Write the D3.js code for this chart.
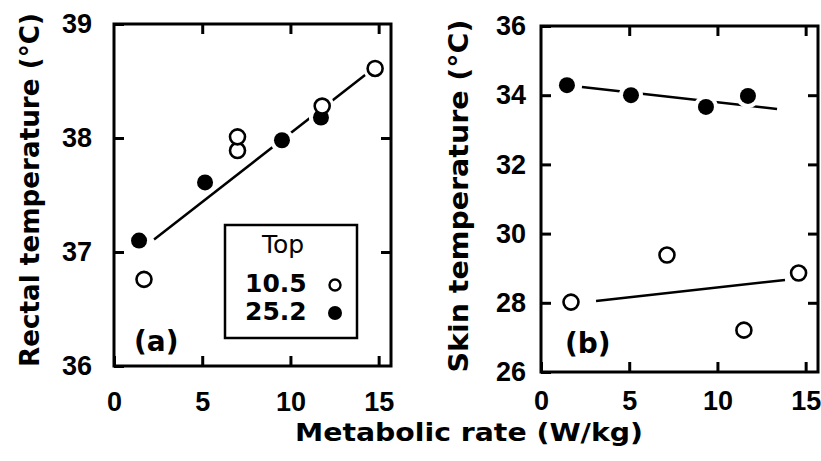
<!DOCTYPE html>
<html>
<head>
<meta charset="utf-8">
<script src="https://cdn.jsdelivr.net/npm/d3@7"></script>
<style>
body { margin: 0; background: #fff; }
</style>
</head>
<body>
<div id="chart"></div>
<script>
// panel (a): rectal temperature vs metabolic rate
var rectalX105 = [1.7, 7.0, 7.0, 11.8, 14.8];
var rectalY105 = [36.76, 37.89, 38.01, 38.28, 38.61];
var rectalX252 = [1.42, 5.16, 9.52, 11.73];
var rectalY252 = [37.1, 37.61, 37.98, 38.18];
var rectalFitX = [2.27, 14.63];
var rectalFitY = [37.11, 38.6];
var rectalTicks = [36, 37, 38, 39];

// panel (b): skin temperature vs metabolic rate
var skinX105 = [1.7, 7.14, 11.5, 14.6];
var skinY105 = [28.02, 29.38, 27.21, 28.86];
var skinX252 = [1.47, 5.1, 9.35, 11.73];
var skinY252 = [34.29, 34.0, 33.66, 33.98];
var skinFitX105 = [3.12, 13.83];
var skinFitY105 = [28.05, 28.66];
var skinFitX252 = [2.32, 13.38];
var skinFitY252 = [34.24, 33.6];
var skinTicks = [26, 28, 30, 32, 34, 36];

var rateTicks = [0, 5, 10, 15];
var legendTitle = "Top";
var legendLabels = ["10.5", "25.2"];

var width = 821;
var height = 461;
var ink = "#000";
var tickFont = "'Liberation Sans', Arial, sans-serif";
var textFont = "'DejaVu Sans', Verdana, sans-serif";

var svg = d3.select("#chart")
    .append("svg")
    .attr("width", width)
    .attr("height", height)
    .style("display", "block");

function styleAxis(g, size) {
    g.select(".domain").remove();
    g.selectAll(".tick line")
        .attr("stroke", ink)
        .attr("stroke-width", 3);
    g.selectAll(".tick text")
        .attr("fill", ink)
        .style("font-family", tickFont)
        .style("font-weight", "bold")
        .style("font-size", size + "px");
}

function drawPanel(o) {
    var x = d3.scaleLinear().domain([0, 15.7]).range([o.left, o.right]);
    var y = d3.scaleLinear().domain([o.yTicks[0], o.yTicks[o.yTicks.length - 1]]).range([o.bottom, o.top]);
    var fmt = d3.format("d");

    // axes, ticks pointing inward on all four sides
    svg.append("g")
        .attr("transform", "translate(0," + o.bottom + ")")
        .call(d3.axisBottom(x).tickValues(rateTicks).tickFormat(fmt).tickSizeInner(-10).tickSizeOuter(0).tickPadding(o.xPad))
        .call(styleAxis, 27);
    svg.append("g")
        .attr("transform", "translate(0," + o.top + ")")
        .call(d3.axisTop(x).tickValues(rateTicks.slice(1)).tickSizeInner(-10).tickSizeOuter(0).tickFormat(""))
        .call(styleAxis, 27);
    svg.append("g")
        .attr("transform", "translate(" + o.left + ",0)")
        .call(d3.axisLeft(y).tickValues(o.yTicks).tickFormat(fmt).tickSizeInner(-10).tickSizeOuter(0).tickPadding(o.yPad))
        .call(styleAxis, 27);
    svg.append("g")
        .attr("transform", "translate(" + o.right + ",0)")
        .call(d3.axisRight(y).tickValues(o.yTicks.slice(1, -1)).tickSizeInner(-10).tickSizeOuter(0).tickFormat(""))
        .call(styleAxis, 27);

    svg.append("rect")
        .attr("x", o.left)
        .attr("y", o.top)
        .attr("width", o.right - o.left)
        .attr("height", o.bottom - o.top)
        .attr("fill", "none")
        .attr("stroke", ink)
        .attr("stroke-width", 3);

    // fitted lines
    var line = d3.line().x(function (d) { return x(d[0]); }).y(function (d) { return y(d[1]); });
    o.fits.forEach(function (f) {
        svg.append("path")
            .attr("d", line(d3.zip(f[0], f[1])))
            .attr("fill", "none")
            .attr("stroke", ink)
            .attr("stroke-width", 2.5);
    });

    var open = d3.zip(o.openX, o.openY);
    var filled = d3.zip(o.filledX, o.filledY);

    // white halos so the lines break around the symbols
    svg.append("g").selectAll("circle")
        .data(open.concat(filled))
        .enter()
        .append("circle")
        .attr("cx", function (d) { return x(d[0]); })
        .attr("cy", function (d) { return y(d[1]); })
        .attr("r", 12)
        .attr("fill", "#fff");

    svg.append("g").selectAll("circle")
        .data(filled)
        .enter()
        .append("circle")
        .attr("cx", function (d) { return x(d[0]); })
        .attr("cy", function (d) { return y(d[1]); })
        .attr("r", 8)
        .attr("fill", ink);

    svg.append("g").selectAll("circle")
        .data(open)
        .enter()
        .append("circle")
        .attr("cx", function (d) { return x(d[0]); })
        .attr("cy", function (d) { return y(d[1]); })
        .attr("r", 7.5)
        .attr("fill", "#fff")
        .attr("stroke", ink)
        .attr("stroke-width", 2.6);

    // panel letter
    svg.append("text")
        .attr("x", o.left + o.letterDx)
        .attr("y", o.letterY)
        .attr("fill", ink)
        .style("font-family", textFont)
        .style("font-weight", "bold")
        .style("font-size", "28px")
        .text(o.letter);

    // y title
    svg.append("text")
        .attr("transform", "translate(" + o.titleX + "," + o.titleY + ") rotate(-90)")
        .attr("text-anchor", "middle")
        .attr("textLength", o.titleLen)
        .attr("lengthAdjust", "spacingAndGlyphs")
        .attr("fill", ink)
        .style("font-family", textFont)
        .style("font-weight", "bold")
        .style("font-size", "27px")
        .text(o.title);

    return { x: x, y: y };
}

drawPanel({
    left: 114, right: 391, top: 24, bottom: 366,
    yTicks: rectalTicks, xPad: 26, yPad: 22,
    openX: rectalX105, openY: rectalY105,
    filledX: rectalX252, filledY: rectalY252,
    fits: [[rectalFitX, rectalFitY]],
    letter: "(a)", letterDx: 20, letterY: 351,
    title: "Rectal temperature (°C)", titleX: 39, titleY: 190, titleLen: 354
});

drawPanel({
    left: 541, right: 818, top: 26, bottom: 372,
    yTicks: skinTicks, xPad: 19, yPad: 15,
    openX: skinX105, openY: skinY105,
    filledX: skinX252, filledY: skinY252,
    fits: [[skinFitX105, skinFitY105], [skinFitX252, skinFitY252]],
    letter: "(b)", letterDx: 24, letterY: 353,
    title: "Skin temperature (°C)", titleX: 468, titleY: 196, titleLen: 353
});

// shared x title
svg.append("text")
    .attr("x", 295)
    .attr("y", 441)
    .attr("textLength", 348)
    .attr("lengthAdjust", "spacingAndGlyphs")
    .attr("fill", ink)
    .style("font-family", textFont)
    .style("font-weight", "bold")
    .style("font-size", "25px")
    .text("Metabolic rate (W/kg)");

// legend box in panel (a)
var legend = svg.append("g").attr("transform", "translate(225,225)");
legend.append("rect")
    .attr("width", 132)
    .attr("height", 113)
    .attr("fill", "#fff")
    .attr("stroke", ink)
    .attr("stroke-width", 2.5);
legend.append("text")
    .attr("x", 58)
    .attr("y", 28)
    .attr("text-anchor", "middle")
    .attr("fill", ink)
    .style("font-family", textFont)
    .style("font-size", "25px")
    .text(legendTitle);
var rows = legend.selectAll(".row")
    .data(legendLabels)
    .enter()
    .append("g")
    .attr("class", "row")
    .attr("transform", function (d, i) { return "translate(0," + (67 + i * 28) + ")"; });
rows.append("text")
    .attr("x", 20)
    .attr("fill", ink)
    .style("font-family", textFont)
    .style("font-weight", "bold")
    .style("font-size", "25px")
    .text(function (d) { return d; });
rows.append("circle")
    .attr("cx", 110)
    .attr("cy", -7)
    .attr("r", function (d, i) { return i === 0 ? 5.5 : 7; })
    .attr("fill", function (d, i) { return i === 0 ? "#fff" : ink; })
    .attr("stroke", ink)
    .attr("stroke-width", function (d, i) { return i === 0 ? 2.4 : 0; });
</script>
</body>
</html>
